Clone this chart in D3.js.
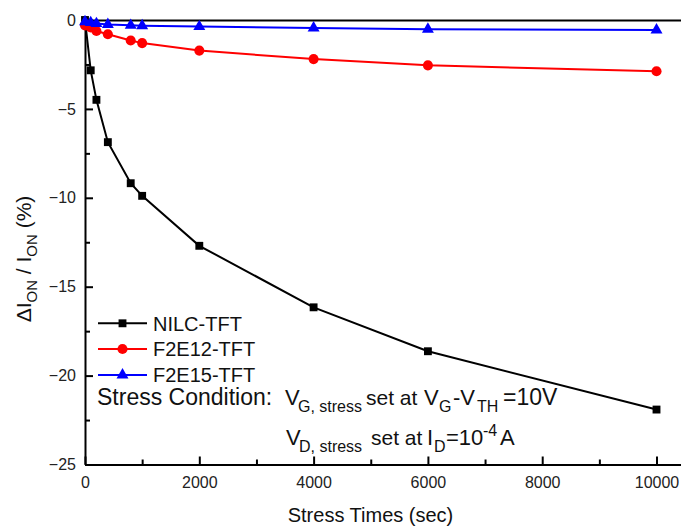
<!DOCTYPE html>
<html>
<head>
<meta charset="utf-8">
<title>ION degradation vs stress time</title>
<script src="https://cdn.jsdelivr.net/npm/d3@7"></script>
<style>
body { margin: 0; background: #fff; }
svg { display: block; font-family: "Liberation Sans", Arial, sans-serif; }
.axis path, .axis line { stroke: #000; stroke-width: 2; }
.axis text { font-size: 16px; fill: #222; font-family: "Liberation Sans", Arial, sans-serif; }
.serie { fill: none; stroke-width: 2; }
</style>
</head>
<body>
<div id="container"></div>
<script>

//------------------------------DATA------------------------------//
var times = [0, 100, 200, 400, 800, 1000, 2000, 4000, 6000, 10000];
var nilc  = [0, -2.83, -4.49, -6.87, -9.18, -9.89, -12.70, -16.16, -18.63, -21.91];
var f2e12 = [-0.3, -0.42, -0.62, -0.8, -1.15, -1.3, -1.72, -2.2, -2.55, -2.88];
var f2e15 = [-0.1, -0.15, -0.2, -0.25, -0.3, -0.32, -0.37, -0.45, -0.52, -0.56];
var seriesNames = ["NILC-TFT", "F2E12-TFT", "F2E15-TFT"];
var seriesColors = ["#000000", "#ff0000", "#0000ff"];
var xTicks = [0, 2000, 4000, 6000, 8000, 10000];
var xMinor = [1000, 3000, 5000, 7000, 9000];
var yTicks = [0, -5, -10, -15, -20, -25];
var yMinor = [-2.5, -7.5, -12.5, -17.5, -22.5];

//-----------------------------SVG-------------------------------//
var width = 681, height = 526;
var svg = d3.select("#container").append("svg")
    .attr("width", width)
    .attr("height", height);

//----------------------------SCALES-----------------------------//
// frame runs past the right edge of the picture, so domain goes a bit beyond 10000
var xScale = d3.scaleLinear().domain([0, 10600]).range([85, 690.8]);
var yScale = d3.scaleLinear().domain([-25, 0]).range([464.5, 20]);

//-----------------------------AXES------------------------------//
svg.append("g")
    .attr("class", "axis")
    .attr("transform", "translate(0," + yScale(-25) + ")")
    .call(d3.axisBottom(xScale)
        .tickValues(xTicks)
        .tickSizeInner(-8)
        .tickSizeOuter(0)
        .tickPadding(12)
        .tickFormat(d3.format("d")));

svg.append("g")
    .attr("class", "axis")
    .attr("transform", "translate(0," + yScale(-25) + ")")
    .call(d3.axisBottom(xScale).tickValues(xMinor).tickSize(-5).tickFormat(""))
    .call(function(g) { g.select(".domain").remove(); });

svg.append("g")
    .attr("class", "axis")
    .attr("transform", "translate(0," + yScale(0) + ")")
    .call(d3.axisTop(xScale).tickValues([]).tickSizeOuter(0));

svg.append("g")
    .attr("class", "axis")
    .attr("transform", "translate(" + xScale(0) + ",0)")
    .call(d3.axisLeft(yScale)
        .tickValues(yTicks)
        .tickSizeInner(-8)
        .tickSizeOuter(0)
        .tickPadding(9));

svg.append("g")
    .attr("class", "axis")
    .attr("transform", "translate(" + xScale(0) + ",0)")
    .call(d3.axisLeft(yScale).tickValues(yMinor).tickSize(-5).tickFormat(""))
    .call(function(g) { g.select(".domain").remove(); });

//----------------------------SERIES-----------------------------//
var symbols = [d3.symbolSquare, d3.symbolCircle, d3.symbolTriangle];
var symSizes = [62, 80, 62];
var slices = [nilc, f2e12, f2e15].map(function(vals, i) {
    return {
        id: seriesNames[i],
        color: seriesColors[i],
        symbol: d3.symbol().type(symbols[i]).size(symSizes[i]),
        values: vals.map(function(v, j) { return { date: times[j], measurement: v }; })
    };
});

var line = d3.line()
    .x(function(d) { return xScale(d.date); })
    .y(function(d) { return yScale(d.measurement); });

var lines = svg.selectAll(".lines")
    .data(slices)
    .enter()
    .append("g");

lines.append("path")
    .attr("class", "serie")
    .attr("stroke", function(d) { return d.color; })
    .attr("d", function(d) { return line(d.values); });

lines.each(function(s) {
    d3.select(this).selectAll(".point")
        .data(s.values)
        .enter()
        .append("path")
        .attr("class", "point")
        .attr("transform", function(d) {
            return "translate(" + xScale(d.date) + "," + yScale(d.measurement) + ")";
        })
        .attr("d", s.symbol)
        .attr("fill", s.color);
});

//----------------------------LEGEND-----------------------------//
var legendY = [323.3, 349, 375];
var legend = svg.selectAll(".legend")
    .data(slices)
    .enter()
    .append("g")
    .attr("transform", function(d, i) { return "translate(98," + legendY[i] + ")"; });

legend.append("line")
    .attr("x1", 0).attr("x2", 49)
    .attr("stroke", function(d) { return d.color; })
    .attr("stroke-width", 2);

legend.append("path")
    .attr("transform", "translate(24.5,0)")
    .attr("d", function(d) { return d.symbol(); })
    .attr("fill", function(d) { return d.color; });

legend.append("text")
    .attr("x", 55)
    .attr("dy", "0.36em")
    .style("font-size", "20px")
    .style("fill", "#111")
    .text(function(d) { return d.id; });

//--------------------------ANNOTATION---------------------------//
var note = svg.append("g").style("font-size", "22px").style("fill", "#111");

note.append("text").attr("x", 97).attr("y", 405).style("font-size", "23px").text("Stress Condition:");

// pieces of the two condition lines: text, x, dy, size
function piece(t, str, x, dy, size) {
    t.append("tspan").attr("x", x).attr("dy", dy).style("font-size", size + "px").text(str);
}

var l1 = note.append("text").attr("y", 405);
piece(l1, "V", 285, 0, 22);
piece(l1, "G, stress", 298, 7, 16);
piece(l1, "set at", 366, -7, 21);
piece(l1, "V", 424, 0, 22);
piece(l1, "G", 439, 7, 16);
piece(l1, "-V", 453, -7, 22);
piece(l1, "TH", 477, 7, 16);
piece(l1, "=10V", 503, -7, 23);

var l2 = note.append("text").attr("y", 445);
piece(l2, "V", 286, 0, 22);
piece(l2, "D, stress", 299, 7, 16);
piece(l2, "set at", 371, -7, 21);
piece(l2, "I", 427, 0, 22);
piece(l2, "D", 434, 7, 16);
piece(l2, "=10", 446, -7, 22);
piece(l2, "-4", 483, -9, 16);
piece(l2, "A", 500, 9, 22);

//--------------------------AXIS TITLES--------------------------//
svg.append("text")
    .attr("x", 370.5)
    .attr("y", 522)
    .attr("text-anchor", "middle")
    .style("font-size", "20px")
    .style("fill", "#111")
    .text("Stress Times (sec)");

var yt = svg.append("text")
    .attr("transform", "translate(31,259) rotate(-90)")
    .attr("text-anchor", "middle")
    .style("font-size", "21px")
    .style("fill", "#111");
yt.append("tspan").text("\u0394I");
yt.append("tspan").attr("dy", 6).style("font-size", "15px").text("ON");
yt.append("tspan").attr("dy", -6).text(" / I");
yt.append("tspan").attr("dy", 6).style("font-size", "15px").text("ON");
yt.append("tspan").attr("dy", -6).text(" (%)");

</script>
</body>
</html>
